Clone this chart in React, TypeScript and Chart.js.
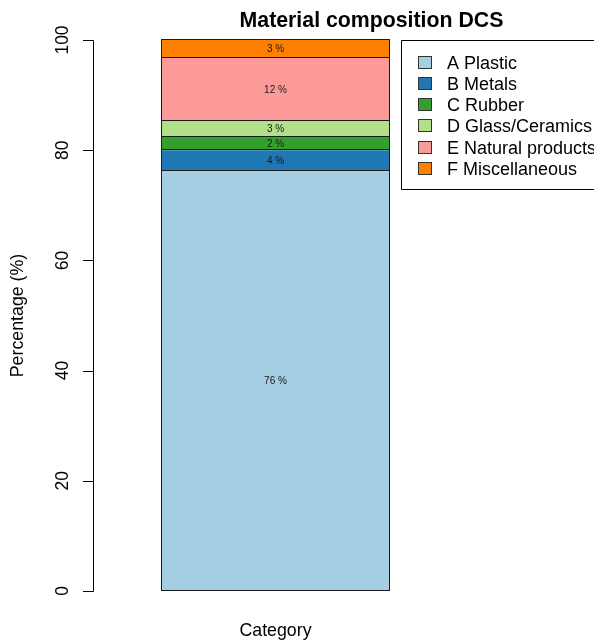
import React, { useEffect, useRef } from "react";
import { Chart, registerables } from "chart.js";

Chart.register(...registerables);

const categories = ["Category"];
const seriesNames = [
  "A Plastic",
  "B Metals",
  "C Rubber",
  "D Glass/Ceramics",
  "E Natural products",
  "F Miscellaneous",
];
const seriesValues = [76.3, 3.7, 2.4, 2.9, 11.5, 3.2];
const seriesColors = ["#A6CEE3", "#1F78B4", "#33A02C", "#B2DF8A", "#FB9A99", "#FF7F00"];
const yTicks = [0, 20, 40, 60, 80, 100];
const titleText = "Material composition DCS";
const yTitle = "Percentage (%)";
const xTitle = "Category";

const FONT = '"Liberation Sans", Arial, Helvetica, sans-serif';

const overlayPlugin = {
  id: "rOverlay",
  afterDraw(chart: any) {
    const ctx = chart.ctx as CanvasRenderingContext2D;
    const y = chart.scales.y;
    ctx.save();
    ctx.fillStyle = "#000";
    ctx.strokeStyle = "#000";
    ctx.lineWidth = 1;

    // Bar segment outlines (R style, 1px dark)
    ctx.strokeStyle = "#1a1a1a";
    chart.data.datasets.forEach((ds: any, i: number) => {
      const meta = chart.getDatasetMeta(i);
      meta.data.forEach((el: any) => {
        const l = Math.round(el.x - el.width / 2) + 0.5;
        const r = Math.round(el.x + el.width / 2) - 0.5;
        const t = Math.round(Math.min(el.y, el.base)) - 0.5;
        const b = Math.round(Math.max(el.y, el.base)) - 0.5;
        ctx.strokeRect(l, t, r - l, b - t);
      });
    });

    // Segment labels
    ctx.font = `10px ${FONT}`;
    ctx.textAlign = "center";
    ctx.textBaseline = "middle";
    ctx.fillStyle = "#1a1a1a";
    chart.data.datasets.forEach((ds: any, i: number) => {
      const meta = chart.getDatasetMeta(i);
      meta.data.forEach((el: any, j: number) => {
        const v = ds.data[j];
        const cy = (el.y + el.base) / 2;
        ctx.fillText(`${Math.round(v)} %`, el.x, cy + 0.5);
      });
    });

    // Y axis
    ctx.fillStyle = "#000";
    ctx.strokeStyle = "#000";
    const axX = 93.5;
    const top = y.getPixelForValue(yTicks[yTicks.length - 1]);
    const bot = y.getPixelForValue(yTicks[0]);
    ctx.beginPath();
    ctx.moveTo(axX, Math.round(top) + 0.5);
    ctx.lineTo(axX, Math.round(bot) + 0.5);
    yTicks.forEach((t) => {
      const py = Math.round(y.getPixelForValue(t)) + 0.5;
      ctx.moveTo(axX, py);
      ctx.lineTo(83, py);
    });
    ctx.stroke();

    ctx.font = `17.5px ${FONT}`;
    ctx.textAlign = "center";
    ctx.textBaseline = "alphabetic";
    yTicks.forEach((t) => {
      const py = y.getPixelForValue(t);
      ctx.save();
      ctx.translate(68, py);
      ctx.rotate(-Math.PI / 2);
      ctx.fillText(String(t), 0, 0);
      ctx.restore();
    });

    // Y title
    ctx.font = `17.8px ${FONT}`;
    ctx.save();
    ctx.translate(23, (top + bot) / 2);
    ctx.rotate(-Math.PI / 2);
    ctx.fillText(yTitle, 0, 0);
    ctx.restore();

    // X title
    const bar = chart.getDatasetMeta(0).data[0];
    ctx.fillText(xTitle, bar.x, 636);

    // Title
    ctx.font = `bold 21.3px ${FONT}`;
    ctx.fillText(titleText, 371.5, 27);

    // Legend
    ctx.beginPath();
    ctx.rect(401.5, 40.5, 400, 149);
    ctx.stroke();
    ctx.font = `18px ${FONT}`;
    ctx.textAlign = "left";
    seriesNames.forEach((name, i) => {
      const cy = 62 + i * 21.33;
      const sy = Math.round(cy - 6.5) + 0.5;
      ctx.fillStyle = seriesColors[i];
      ctx.fillRect(418.5, sy, 13, 12);
      ctx.strokeStyle = "#333";
      ctx.strokeRect(418.5, sy, 13, 12);
      ctx.fillStyle = "#000";
      ctx.fillText(name, 447, cy + 6.5);
    });

    ctx.restore();
  },
};

export default function App() {
  const ref = useRef<HTMLCanvasElement | null>(null);
  useEffect(() => {
    if (!ref.current) return;
    const chart = new Chart(ref.current, {
      type: "bar",
      data: {
        labels: categories,
        datasets: seriesNames.map((name, i) => ({
          label: name,
          data: [seriesValues[i]],
          backgroundColor: seriesColors[i],
          borderWidth: 0,
          categoryPercentage: 1,
          barPercentage: 0.6343,
        })),
      },
      options: {
        responsive: false,
        animation: false,
        devicePixelRatio: 1,
        layout: { padding: { left: 95, right: 138, top: 40, bottom: 49 } },
        plugins: {
          legend: { display: false },
          title: { display: false },
          tooltip: { enabled: false },
        },
        scales: {
          x: { stacked: true, display: false },
          y: { stacked: true, display: false, min: 0, max: 100 },
        },
      },
      plugins: [overlayPlugin],
    });
    return () => chart.destroy();
  }, []);
  return (
    <div style={{ position: "absolute", left: 0, top: 0, width: 594, height: 640, background: "#fff" }}>
      <canvas ref={ref} width={594} height={640} />
    </div>
  );
}
